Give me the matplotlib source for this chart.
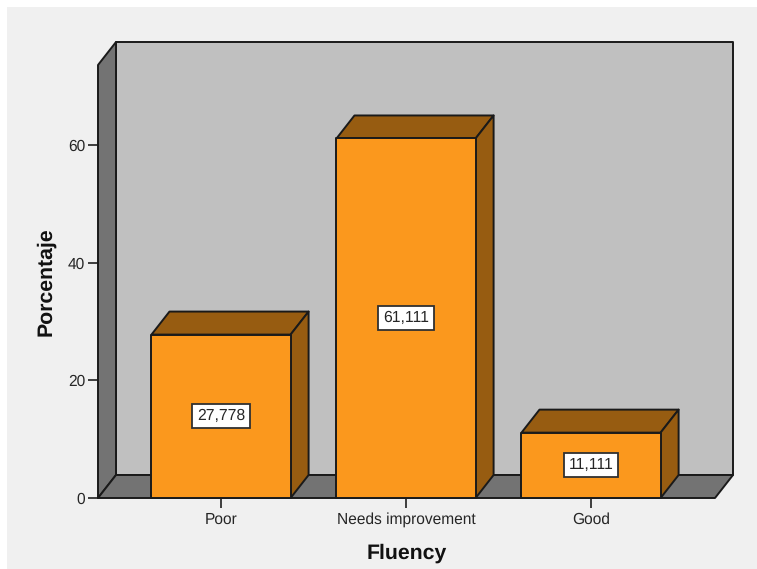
import matplotlib.pyplot as plt
from matplotlib.patches import Polygon, Rectangle

plt.rcParams["font.family"] = ["Liberation Sans", "DejaVu Sans"]
plt.rcParams["text.hinting"] = "none"

categories = ["Poor", "Needs improvement", "Good"]
values = [27.778, 61.111, 11.111]
value_labels = ["27,778", "61,111", "11,111"]
yticks = [0, 20, 40, 60]
xlabel = "Fluency"
ylabel = "Porcentaje"

W, H = 757, 569
dpi = 100

bg = "#f0f0f0"
wall = "#c0c0c0"
side_wall = "#737373"
bar_front = "#fb981d"
bar_dark = "#975c11"
edge = "#1a1a1a"
text_col = "#262626"
lw = 1.4

# depth of the fake 3d, in data units
dx = 0.0973
dy = 3.91
bar_w = 0.752
xlim = (-0.665, 2.67)
ylim = (0, 73.6)


def face(ax, pts, color, z):
    ax.add_patch(Polygon(pts, closed=True, facecolor=color, edgecolor=edge,
                         linewidth=lw, joinstyle="round", clip_on=False, zorder=z))


fig = plt.figure(figsize=(W / dpi, H / dpi), dpi=dpi, facecolor="white")
fig.patches.append(Rectangle((7 / W, 0), 1, 1 - 7 / H, transform=fig.transFigure,
                             facecolor=bg, edgecolor="none", zorder=-1))

ax = fig.add_axes([98 / W, (H - 498) / H, 617 / W, 433 / H])
ax.set_xlim(*xlim)
ax.set_ylim(*ylim)
ax.patch.set_visible(False)
for s in ax.spines.values():
    s.set_visible(False)

x0, x1 = xlim
y0, y1 = ylim
# back wall, left wall, floor
face(ax, [(x0 + dx, y0 + dy), (x1 + dx, y0 + dy), (x1 + dx, y1 + dy), (x0 + dx, y1 + dy)], wall, 1)
face(ax, [(x0, y0), (x0 + dx, y0 + dy), (x0 + dx, y1 + dy), (x0, y1)], side_wall, 2)
face(ax, [(x0, y0), (x1, y0), (x1 + dx, y0 + dy), (x0 + dx, y0 + dy)], side_wall, 2)

for i, v in enumerate(values):
    l = i - bar_w / 2
    r = i + bar_w / 2
    face(ax, [(l, v), (r, v), (r + dx, v + dy), (l + dx, v + dy)], bar_dark, 3)
    face(ax, [(r, 0), (r + dx, dy), (r + dx, v + dy), (r, v)], bar_dark, 3)
    face(ax, [(l, 0), (r, 0), (r, v), (l, v)], bar_front, 4)
    ax.text(i, v / 2, value_labels[i], ha="center", va="center", fontsize=11.3,
            color=text_col, zorder=5,
            bbox=dict(boxstyle="square,pad=0.3", facecolor="white", edgecolor="#303030", linewidth=1.3))

ax.set_xticks(range(len(categories)))
ax.set_xticklabels(categories)
ax.set_yticks(yticks)
ax.tick_params(axis="both", length=7.2, width=1.3, color="#303030", labelcolor=text_col,
               labelsize=11.2, pad=2)
ax.tick_params(axis="x", pad=3)

fig.text(406.5 / W, 1 - 553 / H, xlabel, ha="center", va="center", fontsize=15.3,
         fontweight="bold", color="#111111")
fig.text(45.5 / W, 1 - 281.5 / H, ylabel, ha="center", va="center", rotation=90,
         fontsize=15.3, fontweight="bold", color="#111111")

fig.savefig("out.png", dpi=dpi, facecolor=fig.get_facecolor())
